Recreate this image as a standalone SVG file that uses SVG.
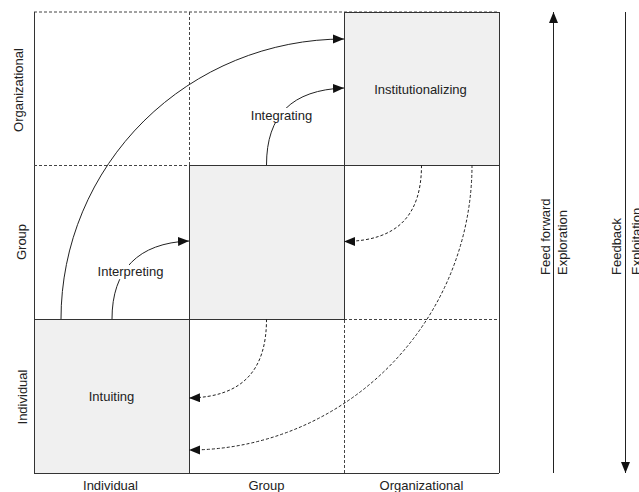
<svg xmlns="http://www.w3.org/2000/svg" width="639" height="492" viewBox="0 0 639 492">
<style>
text{font-family:"Liberation Sans",Arial,sans-serif;font-size:13px;fill:#222}
.cell{fill:#f0f0f0;stroke:#333;stroke-width:1}
.grid{fill:none;stroke:#444;stroke-width:1;stroke-dasharray:3 2}
.solid{fill:none;stroke:#333;stroke-width:1}
.arr{fill:none;stroke:#222;stroke-width:1}
.darr{fill:none;stroke:#222;stroke-width:1;stroke-dasharray:3 2}
.bg{fill:#fff}
</style>
<defs>
<marker id="ah" markerUnits="userSpaceOnUse" markerWidth="12" markerHeight="10" refX="11" refY="4.5" orient="auto">
<path d="M0,0 L11,4.5 L0,9 Z" fill="#111"/>
</marker>
</defs>
<g id="grid">
<line class="grid" x1="34" y1="12" x2="499" y2="12"/>
<line class="solid" x1="34.5" y1="12" x2="34.5" y2="473"/>
<line class="solid" x1="34" y1="473.5" x2="499" y2="473.5"/>
<line class="solid" x1="499.5" y1="12" x2="499.5" y2="473"/>
<line class="grid" x1="189.5" y1="12" x2="189.5" y2="165"/>
<line class="grid" x1="189.5" y1="319" x2="189.5" y2="473"/>
<line class="grid" x1="344.5" y1="165" x2="344.5" y2="473"/>
<line class="grid" x1="34" y1="165.5" x2="189" y2="165.5"/>
<line class="grid" x1="344" y1="319.5" x2="499" y2="319.5"/>
<line class="grid" x1="189" y1="319.5" x2="344" y2="319.5"/>
<line class="grid" x1="344" y1="165.5" x2="499" y2="165.5"/>
</g>
<g id="node-institutionalizing">
<rect class="cell" x="344.5" y="12.5" width="155" height="153"/>
<text x="420.5" y="94" text-anchor="middle">Institutionalizing</text>
</g>
<g id="node-group">
<rect class="cell" x="189.5" y="165.5" width="155" height="154"/>
</g>
<g id="node-intuiting">
<rect class="cell" x="34.5" y="319.5" width="155" height="154"/>
<text x="111.5" y="401" text-anchor="middle">Intuiting</text>
</g>
<g id="connectors">
<path class="arr" d="M61 319 A283 280 0 0 1 344 39" marker-end="url(#ah)"/>
<path class="arr" d="M266.5 165 C266.5 115 292 90 344 88" marker-end="url(#ah)"/>
<path class="arr" d="M112 319 C112 270 138 243 189 241" marker-end="url(#ah)"/>
<path class="darr" d="M421.5 165 C421.5 215 398 241 344 241.5" marker-end="url(#ah)"/>
<path class="darr" d="M266.5 319 C266.5 370 243 397 189 398" marker-end="url(#ah)"/>
<path class="darr" d="M472 165 A283 285 0 0 1 189 450" marker-end="url(#ah)"/>
<path class="arr" d="M553.5 473 L553.5 12" marker-end="url(#ah)"/>
<path class="arr" d="M625.5 12 L625.5 473" marker-end="url(#ah)"/>
</g>
<g id="label-integrating">
<rect class="bg" x="247" y="108" width="69" height="14"/>
<text x="281.5" y="119.5" text-anchor="middle">Integrating</text>
</g>
<g id="label-interpreting">
<rect class="bg" x="94" y="265" width="73" height="14"/>
<text x="130.5" y="275.5" text-anchor="middle">Interpreting</text>
</g>
<g id="axis-labels">
<text transform="translate(23,90) rotate(-90)" text-anchor="middle">Organizational</text>
<text transform="translate(26,242) rotate(-90)" text-anchor="middle">Group</text>
<text transform="translate(27,397) rotate(-90)" text-anchor="middle">Individual</text>
<text x="110.5" y="490" text-anchor="middle">Individual</text>
<text x="266.5" y="490" text-anchor="middle">Group</text>
<text x="421.5" y="490" text-anchor="middle">Organizational</text>
<text transform="translate(550,275) rotate(-90)">Feed forward</text>
<text transform="translate(567,275) rotate(-90)">Exploration</text>
<text transform="translate(621,275) rotate(-90)">Feedback</text>
<text transform="translate(641,275) rotate(-90)">Exploitation</text>
</g>
</svg>
